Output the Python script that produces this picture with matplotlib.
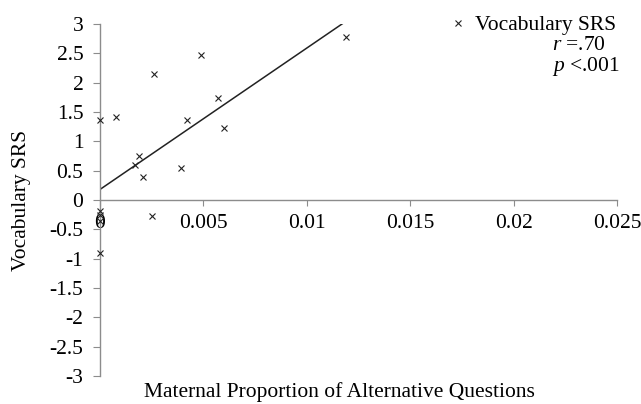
import matplotlib.pyplot as plt
import numpy as np

plt.rcParams['font.family'] = ['Liberation Serif', 'DejaVu Serif']
plt.rcParams['mathtext.fontset'] = 'custom'
plt.rcParams['mathtext.rm'] = 'Liberation Serif'
plt.rcParams['mathtext.it'] = 'Liberation Serif:italic'

# maternal proportion of alternative questions vs vocabulary SRS
prop_alt = [0.0, 0.00075, 0.0026, 0.0049, 0.0057, 0.0042, 0.0060, 0.0019,
            0.0017, 0.0021, 0.0039, 0.0119, 0.0025, 0.0, 0.0, 0.0, 0.0]
vocab_srs = [1.36, 1.41, 2.15, 2.47, 1.74, 1.36, 1.23, 0.75,
             0.59, 0.40, 0.55, 2.77, -0.28, -0.18, -0.26, -0.36, -0.90]

# fitted line
fit_intercept = 0.18
fit_slope = 241.0
fit_x_range = [0.0, 0.0121]

x_ticks = [0, 0.005, 0.01, 0.015, 0.02, 0.025]
x_tick_labels = ['0', '0.005', '0.01', '0.015', '0.02', '0.025']
y_ticks = [3, 2.5, 2, 1.5, 1, 0.5, 0, -0.5, -1, -1.5, -2, -2.5, -3]
y_tick_labels = ['3', '2.5', '2', '1.5', '1', '0.5', '0', '-0.5', '-1', '-1.5', '-2', '-2.5', '-3']

fig = plt.figure(figsize=(6.41, 4.04), dpi=100)
ax = fig.add_axes([100 / 641, 1 - 376 / 404, 517 / 641, 352 / 404])

axis_gray = '#8c8c8c'
fs = 15.5

fx = np.array(fit_x_range)
ax.plot(fx, fit_intercept + fit_slope * fx, color='#222222', lw=1.1, zorder=2)
ax.plot(prop_alt, vocab_srs, linestyle='none', marker='x', markersize=5,
        markeredgewidth=0.8, color='#222222', zorder=3, clip_on=False,
        label='Vocabulary SRS')

ax.set_xlim(0, 0.025)
ax.set_ylim(-3, 3)
ax.set_xticks(x_ticks)
ax.set_xticklabels(x_tick_labels)
ax.set_yticks(y_ticks)
ax.set_yticklabels(y_tick_labels)

ax.spines['top'].set_visible(False)
ax.spines['right'].set_visible(False)
ax.spines['bottom'].set_position(('data', 0))
for s in ['left', 'bottom']:
    ax.spines[s].set_color(axis_gray)
    ax.spines[s].set_linewidth(1.0)

ax.tick_params(axis='x', direction='out', length=4, pad=6, color=axis_gray,
               labelsize=fs)
ax.tick_params(axis='y', direction='out', length=5, pad=7, color=axis_gray,
               labelsize=fs)

fig.text(339 / 641, 1 - 392 / 404, 'Maternal Proportion of Alternative Questions',
         ha='center', va='center', fontsize=fs)
fig.text(22 / 641, 1 - 200 / 404, 'Vocabulary SRS', rotation=90,
         ha='center', va='center', fontsize=fs)

ax.legend(loc='center left', bbox_to_anchor=(452 / 641, 1 - 25 / 404),
          bbox_transform=fig.transFigure, frameon=False,
          fontsize=fs, handlelength=0.6, handletextpad=0.45, borderpad=0,
          borderaxespad=0, markerscale=0.75)
fig.text(552 / 641, 1 - 46 / 404, r'$r$ =.70', ha='left', va='center', fontsize=fs)
fig.text(552 / 641, 1 - 66 / 404, r'$p$ <.001', ha='left', va='center', fontsize=fs)

fig.savefig('out.png', dpi=100)
